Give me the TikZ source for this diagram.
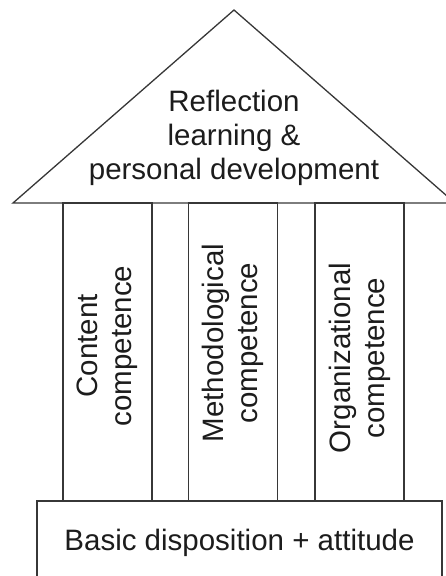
\documentclass[tikz,border=0pt]{standalone}
\usepackage{fontspec}
\setsansfont{Liberation Sans}
\usetikzlibrary{positioning, calc}
\definecolor{inkgray}{RGB}{55, 55, 55}
\definecolor{textgray}{RGB}{28, 28, 28}

\begin{document}
\begin{tikzpicture}[
    x=1pt, y=-1pt,
    font=\sffamily\fontsize{29.5}{34}\selectfont,
    outline/.style={draw=inkgray, line width=1.3pt},
    pillar/.style={outline, rectangle, minimum width=89pt, minimum height=298pt, inner sep=0pt},
    pillarlabel/.style={rotate=90, align=center, text=textgray, inner sep=0pt},
    rooflabel/.style={align=center, text=textgray, inner sep=0pt}
]
    \useasboundingbox (0,0) rectangle (446,576);

    % ---------------------------------------------------------------
    % ROOF
    % ---------------------------------------------------------------
    \coordinate (apex) at (234,10);
    \coordinate (eaveL) at (13,203);
    \coordinate (eaveR) at (455,203);
    \draw[outline] (eaveL) -- (apex) -- (eaveR) -- cycle;
    \node[rooflabel] (roof) at (234,137.4) {Reflection\\learning \&\\personal development};

    % ---------------------------------------------------------------
    % PILLARS
    % ---------------------------------------------------------------
    \node[pillar] (P1) at (107.5,352) {};
    \node[pillar] (P2) at (233,352) {};
    \node[pillar] (P3) at (359.5,352) {};

    \node[pillarlabel] (content) at ($(P1.center)+(0,-6)$) {Content\\competence};
    \node[pillarlabel] (method) at ($(P2.center)+(0,-9)$) {Methodological\\competence};
    \node[pillarlabel] (organ) at ($(P3.center)+(0,6)$) {Organizational\\competence};

    % ---------------------------------------------------------------
    % FOUNDATION
    % ---------------------------------------------------------------
    \node[outline, rectangle, minimum width=405pt, minimum height=100pt, inner sep=0pt] (base) at (239.5,551) {};
    \node[text=textgray, inner sep=0pt] (basetext) at (239.5,542.4) {Basic disposition + attitude};

\end{tikzpicture}
\end{document}
